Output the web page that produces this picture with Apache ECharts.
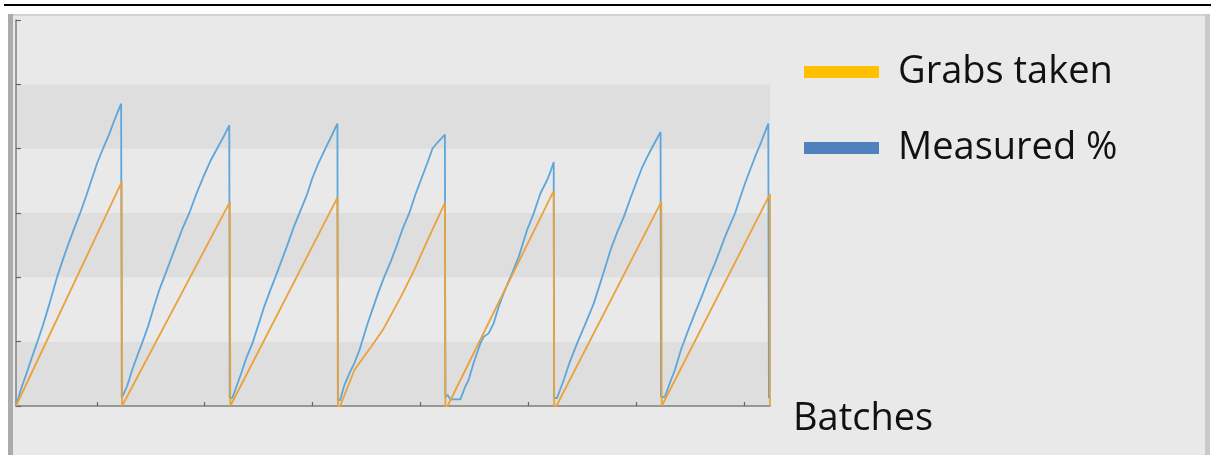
<!DOCTYPE html>
<html>
<head>
<meta charset="utf-8">
<script src="https://cdn.jsdelivr.net/npm/echarts@6/dist/echarts.min.js"></script>
<style>
  html, body { margin: 0; padding: 0; background: #fff; }
  #chart { width: 1214px; height: 455px; }
</style>
</head>
<body>
<div id="chart"></div>
<script>
// ---- data (x in batches, y in y-axis units) ----
const seriesNames = ['Grabs taken', 'Measured %'];
const batchTicks = [0.75, 1.75, 2.75, 3.755, 4.755, 5.76, 6.765];

const grabsTaken = [
  [0, 0], [0.981, 3.48], [0.985, 0],
  [1.985, 3.17], [1.99, 0], [2.008, 0],
  [2.984, 3.24], [2.99, 0], [3.009, 0],
  [3.142, 0.559], [3.219, 0.741], [3.297, 0.921], [3.405, 1.18], [3.573, 1.697],
  [3.697, 2.112], [3.821, 2.578], [3.982, 3.157], [3.987, 0], [4.007, 0],
  [4.992, 3.343], [4.997, 0], [5.017, 0],
  [5.991, 3.172], [5.995, 0], [6.008, 0],
  [7.0, 3.292], [7.0, 0]
];

const measured = [
  // batch 1
  [0, 0], [0.0465, 0.264], [0.1023, 0.528], [0.1487, 0.761], [0.198, 0.994], [0.251, 1.258],
  [0.3068, 1.568], [0.381, 2.003], [0.437, 2.283], [0.4927, 2.547], [0.5485, 2.795], [0.595, 2.997],
  [0.6507, 3.261], [0.7065, 3.540], [0.753, 3.773], [0.809, 4.006], [0.8646, 4.223], [0.9203, 4.472],
  [0.976, 4.700], [0.982, 0.124],
  // batch 2
  [0.9947, 0.124], [1.0319, 0.311], [1.0784, 0.559], [1.1249, 0.776], [1.1741, 0.994], [1.2271, 1.242],
  [1.2829, 1.553], [1.3294, 1.801], [1.3758, 2.003], [1.4316, 2.252], [1.4874, 2.500], [1.5432, 2.748],
  [1.6083, 2.997], [1.6733, 3.292], [1.7384, 3.556], [1.8035, 3.804], [1.8685, 4.006], [1.9243, 4.177],
  [1.9801, 4.363], [1.984, 0.124],
  // batch 3
  [2.008, 0.124], [2.045, 0.295], [2.092, 0.512], [2.138, 0.745], [2.199, 0.994], [2.250, 1.258],
  [2.306, 1.553], [2.361, 1.801], [2.408, 2.003], [2.464, 2.252], [2.519, 2.500], [2.575, 2.764],
  [2.631, 2.997], [2.696, 3.261], [2.751, 3.540], [2.807, 3.773], [2.873, 4.006], [2.928, 4.193],
  [2.984, 4.390], [2.988, 0.093],
  // batch 4
  [3.009, 0.093], [3.049, 0.326], [3.096, 0.512], [3.142, 0.668], [3.189, 0.870], [3.217, 1.025],
  [3.254, 1.227], [3.310, 1.506], [3.365, 1.770], [3.418, 2.003], [3.477, 2.236], [3.533, 2.484],
  [3.588, 2.748], [3.651, 2.997], [3.709, 3.292], [3.765, 3.540], [3.821, 3.789], [3.868, 4.006],
  [3.924, 4.115], [3.982, 4.219], [3.986, 0.14],
  // batch 5
  [4.007, 0.171], [4.015, 0.16], [4.032, 0.104], [4.125, 0.104], [4.171, 0.300], [4.202, 0.404],
  [4.248, 0.668], [4.311, 0.974], [4.342, 1.076], [4.388, 1.129], [4.434, 1.284], [4.481, 1.542],
  [4.527, 1.750], [4.605, 2.061], [4.667, 2.318], [4.744, 2.733], [4.806, 2.992], [4.868, 3.303],
  [4.930, 3.509], [4.961, 3.638], [4.992, 3.793], [4.995, 0.124],
  // batch 6
  [5.023, 0.124], [5.085, 0.404], [5.141, 0.683], [5.209, 0.974], [5.281, 1.258], [5.364, 1.595],
  [5.439, 1.988], [5.519, 2.422], [5.578, 2.686], [5.643, 2.939], [5.708, 3.245], [5.767, 3.509],
  [5.810, 3.696], [5.860, 3.871], [5.922, 4.068], [5.984, 4.259], [5.988, 0.14],
  // batch 7
  [6.024, 0.144], [6.070, 0.357], [6.117, 0.559], [6.173, 0.870], [6.241, 1.180], [6.303, 1.444],
  [6.365, 1.697], [6.424, 1.957], [6.489, 2.216], [6.536, 2.422], [6.582, 2.629], [6.628, 2.811],
  [6.675, 2.992], [6.721, 3.230], [6.768, 3.458], [6.814, 3.665], [6.861, 3.871], [6.917, 4.099],
  [6.984, 4.390], [6.99, 0.12]
];

const chart = echarts.init(document.getElementById('chart'), null, { renderer: 'canvas' });

const option = {
  animation: false,
  backgroundColor: '#ffffff',
  graphic: [
    { type: 'rect', z: -10, shape: { x: 8, y: 14, width: 1202, height: 450 }, style: { fill: '#e9e9e9' } },
    { type: 'rect', z: -9, shape: { x: 8, y: 14, width: 1202, height: 2 }, style: { fill: '#d2d2d2' } },
    { type: 'rect', z: -9, shape: { x: 8, y: 14, width: 5, height: 450 }, style: { fill: '#ababab' } },
    { type: 'rect', z: -9, shape: { x: 1205, y: 14, width: 5, height: 450 }, style: { fill: '#c9c9c9' } },
    { type: 'rect', z: -9, shape: { x: 4, y: 4, width: 1207, height: 2 }, style: { fill: '#000000' } }
  ],
  grid: { left: 16, right: 444, top: 20, bottom: 49, containLabel: false },
  legend: {
    orient: 'vertical',
    left: 804,
    top: 53,
    padding: 0,
    itemWidth: 75,
    itemHeight: 12,
    itemGap: 38,
    selectedMode: false,
    textStyle: { fontFamily: 'Open Sans', fontSize: 38, color: '#111', padding: [0, 0, 0, 14] },
    data: [
      { name: seriesNames[0], icon: 'rect', itemStyle: { color: '#FFC000' } },
      { name: seriesNames[1], icon: 'rect', itemStyle: { color: '#4F81BD' } }
    ]
  },
  xAxis: {
    type: 'value',
    min: 0,
    max: 7,
    name: 'Batches',
    nameLocation: 'end',
    nameGap: 23,
    nameTextStyle: { fontFamily: 'Open Sans', fontSize: 38, color: '#111', verticalAlign: 'top', padding: [-6, 0, 0, 0] },
    axisLine: { show: true, onZero: false, lineStyle: { color: '#7f7f7f', width: 1.5 } },
    axisTick: { show: true, inside: true, length: 4, customValues: batchTicks, lineStyle: { color: '#666', width: 1.2 } },
    axisLabel: { show: false },
    splitLine: { show: false }
  },
  yAxis: {
    type: 'value',
    min: 0,
    max: 6,
    interval: 1,
    axisLine: { show: true, lineStyle: { color: '#7f7f7f', width: 1.5 } },
    axisTick: { show: true, inside: true, length: 5, lineStyle: { color: '#666', width: 1.2 } },
    axisLabel: { show: false },
    splitLine: { show: false },
    splitArea: { show: true, areaStyle: { color: ['#dedede', '#e9e9e9'] } }
  },
  series: [
    {
      name: seriesNames[1],
      type: 'line',
      data: measured,
      showSymbol: false,
      z: 2,
      lineStyle: { color: '#5ba6dc', width: 1.8 },
      itemStyle: { color: '#5ba6dc' }
    },
    {
      name: seriesNames[0],
      type: 'line',
      data: grabsTaken,
      showSymbol: false,
      z: 3,
      lineStyle: { color: '#eaa23a', width: 1.8 },
      itemStyle: { color: '#eaa23a' }
    }
  ]
};

chart.setOption(option);
</script>
</body>
</html>
